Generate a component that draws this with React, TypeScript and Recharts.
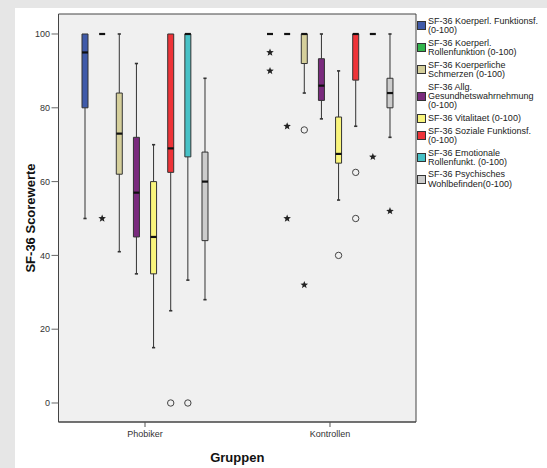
import React from 'react';
import {
  ComposedChart,
  XAxis,
  YAxis,
  Scatter,
  ReferenceArea,
  ReferenceLine,
  Legend,
  Label,
} from 'recharts';

// ---------- data ----------
const groups = ['Phobiker', 'Kontrollen'];

const seriesNames = [
  'SF-36 Koerperl. Funktionsf.\n(0-100)',
  'SF-36 Koerperl.\nRollenfunktion (0-100)',
  'SF-36 Koerperliche\nSchmerzen (0-100)',
  'SF-36 Allg.\nGesundhetswahrnehmung\n(0-100)',
  'SF-36 Vitalitaet (0-100)',
  'SF-36 Soziale Funktionsf.\n(0-100)',
  'SF-36 Emotionale\nRollenfunkt. (0-100)',
  'SF-36 Psychisches\nWohlbefinden(0-100)',
];

const seriesColors = [
  '#3F5AA9',
  '#33B54C',
  '#D5CF9B',
  '#7A2B7E',
  '#F9F57C',
  '#EE3338',
  '#47C1C6',
  '#CCCCCC',
];

const phobikerMin = [50, 100, 41, 35, 15, 25, 33.3, 28];
const phobikerQ1 = [80, 100, 62, 45, 35, 62.5, 66.7, 44];
const phobikerMedian = [95, 100, 73, 57, 45, 69, 100, 60];
const phobikerQ3 = [100, 100, 84, 72, 60, 100, 100, 68];
const phobikerMax = [100, 100, 100, 92, 70, 100, 100, 88];

const kontrollenMin = [100, 100, 84, 77, 55, 75, 100, 72];
const kontrollenQ1 = [100, 100, 92, 82, 65, 87.5, 100, 80];
const kontrollenMedian = [100, 100, 100, 86, 67.5, 100, 100, 84];
const kontrollenQ3 = [100, 100, 100, 93.3, 77.5, 100, 100, 88];
const kontrollenMax = [100, 100, 100, 100, 90, 100, 100, 100];

const phobikerOutlierSeries = [1, 5, 6];
const phobikerOutlierValues = [50, 0, 0];
const phobikerOutlierKinds = ['star', 'circle', 'circle'];

const kontrollenOutlierSeries = [0, 0, 1, 1, 2, 2, 4, 5, 5, 6, 7];
const kontrollenOutlierValues = [95, 90, 75, 50, 74, 32, 40, 62.5, 50, 66.7, 52];
const kontrollenOutlierKinds = [
  'star', 'star', 'star', 'star', 'circle', 'star', 'circle', 'circle', 'circle', 'star', 'star',
];

const yTicks = [0, 20, 40, 60, 80, 100];

// ---------- layout constants ----------
const W = 547;
const H = 468;
const PX_PER_UNIT = 185;
const BOX_STEP = 17.14 / PX_PER_UNIT;
const BOX_HALF = 3 / PX_PER_UNIT;
const CAP_HALF = 1.6 / PX_PER_UNIT;
const X_DOMAIN = [-0.4676, 1.4649];
const Y_DOMAIN = [-5.15, 105.42];
const FONT = '"Liberation Sans", Arial, sans-serif';
const LINE = '#333333';

const stats = [
  { min: phobikerMin, q1: phobikerQ1, med: phobikerMedian, q3: phobikerQ3, max: phobikerMax },
  { min: kontrollenMin, q1: kontrollenQ1, med: kontrollenMedian, q3: kontrollenQ3, max: kontrollenMax },
];

const xPos = (g: number, s: number) => g + (s - 3.5) * BOX_STEP;

const outliers = [
  { series: phobikerOutlierSeries, values: phobikerOutlierValues, kinds: phobikerOutlierKinds },
  { series: kontrollenOutlierSeries, values: kontrollenOutlierValues, kinds: kontrollenOutlierKinds },
];

const buildOutliers = (kind: string) => {
  const pts: { x: number; y: number }[] = [];
  outliers.forEach((o, g) => {
    o.series.forEach((s, i) => {
      if (o.kinds[i] === kind) pts.push({ x: xPos(g, s), y: o.values[i] });
    });
  });
  return pts;
};

const circleData = buildOutliers('circle');
const starData = buildOutliers('star');

const starPath = (cx: number, cy: number, ro: number, ri: number) => {
  let d = '';
  for (let i = 0; i < 10; i++) {
    const r = i % 2 === 0 ? ro : ri;
    const a = -Math.PI / 2 + (i * Math.PI) / 5;
    d += (i === 0 ? 'M' : 'L') + (cx + r * Math.cos(a)).toFixed(2) + ',' + (cy + r * Math.sin(a)).toFixed(2);
  }
  return d + 'Z';
};

const StarShape = (props: any) => {
  const { cx, cy } = props;
  if (cx == null || cy == null) return null;
  return <path d={starPath(cx, cy, 4, 1.7)} fill="#222" stroke="none" />;
};

const CircleShape = (props: any) => {
  const { cx, cy } = props;
  if (cx == null || cy == null) return null;
  return <circle cx={cx} cy={cy} r={3.2} fill="none" stroke="#444" strokeWidth={1} />;
};

const buildBoxes = () => {
  const whiskers: React.ReactElement[] = [];
  const boxes: React.ReactElement[] = [];
  const medians: React.ReactElement[] = [];
  stats.forEach((st, g) => {
    seriesNames.forEach((_, s) => {
      const x = xPos(g, s);
      const mn = st.min[s];
      const q1 = st.q1[s];
      const md = st.med[s];
      const q3 = st.q3[s];
      const mx = st.max[s];
      const k = `${g}-${s}`;
      if (mn < q1) {
        whiskers.push(
          <ReferenceLine key={`wl${k}`} segment={[{ x, y: mn }, { x, y: q1 }]} stroke={LINE} strokeWidth={1} ifOverflow="visible" />,
          <ReferenceLine key={`cl${k}`} segment={[{ x: x - CAP_HALF, y: mn }, { x: x + CAP_HALF, y: mn }]} stroke={LINE} strokeWidth={1.6} ifOverflow="visible" />
        );
      }
      if (mx > q3) {
        whiskers.push(
          <ReferenceLine key={`wu${k}`} segment={[{ x, y: q3 }, { x, y: mx }]} stroke={LINE} strokeWidth={1} ifOverflow="visible" />,
          <ReferenceLine key={`cu${k}`} segment={[{ x: x - CAP_HALF, y: mx }, { x: x + CAP_HALF, y: mx }]} stroke={LINE} strokeWidth={1.6} ifOverflow="visible" />
        );
      }
      if (q3 > q1) {
        boxes.push(
          <ReferenceArea
            key={`b${k}`}
            x1={x - BOX_HALF}
            x2={x + BOX_HALF}
            y1={q1}
            y2={q3}
            fill={seriesColors[s]}
            fillOpacity={1}
            stroke={LINE}
            strokeWidth={1}
            ifOverflow="visible"
          />
        );
      }
      medians.push(
        <ReferenceLine key={`m${k}`} segment={[{ x: x - BOX_HALF, y: md }, { x: x + BOX_HALF, y: md }]} stroke="#111" strokeWidth={2.2} ifOverflow="visible" />
      );
    });
  });
  return [...whiskers, ...boxes, ...medians];
};

const LegendBox = () => (
  <div style={{ fontFamily: FONT, fontSize: 9, color: '#222' }}>
    {seriesNames.map((name, i) => (
      <div key={i} style={{ display: 'flex', alignItems: 'center', marginBottom: 3.4 }}>
        <div
          style={{
            width: 7,
            height: 7,
            background: seriesColors[i],
            border: '1px solid #333',
            marginRight: 2,
            flexShrink: 0,
          }}
        />
        <div style={{ lineHeight: '9.3px', whiteSpace: 'pre' }}>{name}</div>
      </div>
    ))}
  </div>
);

export default function App() {
  const els = buildBoxes();
  return (
    <div style={{ position: 'fixed', left: 0, top: 0, width: W, height: H, background: '#e6e6e6', overflow: 'hidden' }}>
      <div style={{ position: 'absolute', left: 15, top: 8, width: W - 15, height: H - 8, background: '#ffffff' }} />
      <div style={{ position: 'absolute', left: 0, top: 0 }}>
        <ComposedChart
          width={W}
          height={H}
          margin={{ top: 14, right: 131, bottom: 0, left: 0 }}
          style={{ fontFamily: FONT }}
        >
          <ReferenceArea
            x1={X_DOMAIN[0]}
            x2={X_DOMAIN[1]}
            y1={Y_DOMAIN[0]}
            y2={Y_DOMAIN[1]}
            fill="#f0f0f0"
            fillOpacity={1}
            stroke="#444"
            strokeWidth={1}
            ifOverflow="visible"
          />
          <XAxis
            dataKey="x"
            type="number"
            domain={X_DOMAIN}
            ticks={[0, 1]}
            allowDataOverflow
            tickFormatter={(v: number) => groups[v] ?? ''}
            height={46}
            tickSize={5}
            tickMargin={4}
            interval={0}
            axisLine={{ stroke: '#444' }}
            tickLine={{ stroke: '#555' }}
            tick={{ fontSize: 9, fill: '#333', fontFamily: FONT }}
          >
            <Label value="Gruppen" position="center" dy={12.5} style={{ fontSize: 13, fontWeight: 'bold', fill: '#111', fontFamily: FONT }} />
          </XAxis>
          <YAxis
            type="number"
            domain={Y_DOMAIN}
            ticks={yTicks}
            allowDataOverflow
            width={58.5}
            tickSize={7}
            tickMargin={1.5}
            axisLine={{ stroke: '#444' }}
            tickLine={{ stroke: '#666' }}
            tick={{ fontSize: 9, fill: '#333', fontFamily: FONT }}
          >
            <Label value="SF-36 Scorewerte" position="center" angle={-90} dx={1} style={{ fontSize: 13, fontWeight: 'bold', fill: '#111', fontFamily: FONT, textAnchor: 'middle' }} />
          </YAxis>
          {els}
          <Scatter data={circleData} dataKey="y" shape={CircleShape} isAnimationActive={false} legendType="none" />
          <Scatter data={starData} dataKey="y" shape={StarShape} isAnimationActive={false} legendType="none" />
          <Legend
            content={() => <LegendBox />}
            layout="vertical"
            align="center"
            verticalAlign="middle"
            wrapperStyle={{ position: 'absolute', left: 417, top: 16.6, width: 130 }}
          />
        </ComposedChart>
      </div>
    </div>
  );
}
